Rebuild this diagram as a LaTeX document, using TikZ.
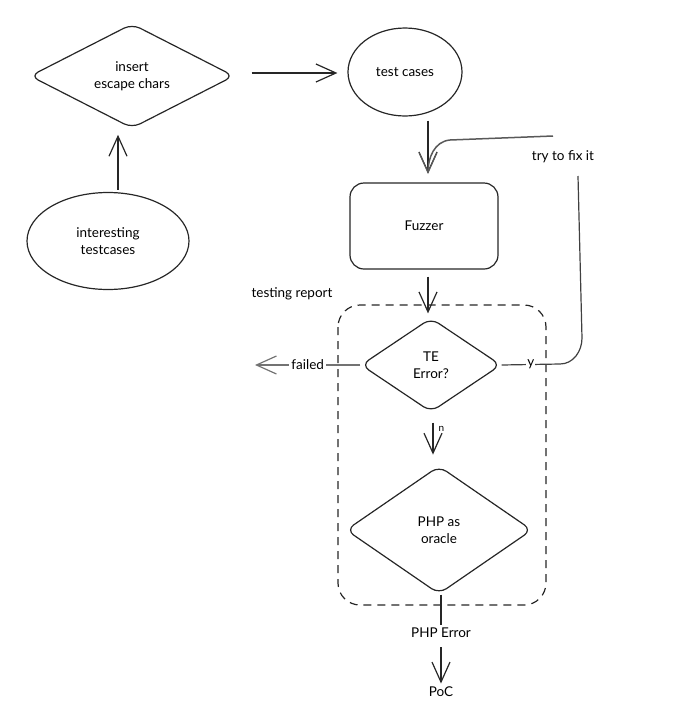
\documentclass[tikz,border=0pt]{standalone}
\usepackage{fontspec}
\setmainfont{Lato}
\usetikzlibrary{shapes.geometric,arrows.meta}
\begin{document}
\begin{tikzpicture}[x=1pt,y=-1pt,
  every node/.style={font=\fontsize{13.5}{16.5}\selectfont, align=center},
  line/.style={draw=black!85, line width=1.2pt},
  arr/.style={line, -{Straight Barb[length=20pt,width=18pt,line width=1.2pt]}},
  dia/.style={diamond, line, rounded corners=9pt, inner sep=0pt},
  ell/.style={ellipse, line, inner sep=0pt},
  lbl/.style={fill=white, inner sep=2pt}]
\useasboundingbox (0,0) rectangle (698,721);
% nodes
\node[dia, minimum width=204pt, minimum height=96pt] (ins) at (132,76) {insert\\escape chars};
\node[ell, minimum width=114pt, minimum height=88pt] (tc) at (405,72) {test cases};
\node[ell, minimum width=162pt, minimum height=97pt] (int) at (108,241) {interesting\\testcases};
\node[line, rounded corners=14pt, minimum width=148pt, minimum height=86pt] (fuz) at (424,226) {Fuzzer};
\node[dia, minimum width=140pt, minimum height=94pt] (te) at (431,365) {TE\\Error?};
\node[dia, minimum width=186pt, minimum height=128pt] (php) at (439,530) {PHP as\\oracle};
\node (rep) at (292,294) {testing report};
\node (fix) at (563,157) {try to fix it};
\node (phperr) at (441,633) {PHP Error};
\node (poc) at (441,692) {PoC};
\coordinate (failend) at (255,365);
% dashed container
\draw[line, dashed, dash pattern=on 8pt off 6pt, rounded corners=22pt] (338,305) rectangle (546,605);
% connectors
\draw[arr, shorten <=17pt, shorten >=10pt] (ins.east |- 0,73) -- (tc.west |- 0,73);
\draw[arr, shorten <=2pt, shorten >=6pt] (int.north -| 118,0) -- (ins.south -| 118,0);
\draw[arr, shorten <=4pt, shorten >=9pt] (tc.south -| 428,0) -- (fuz.north -| 428,0);
\draw[arr, shorten <=7pt, shorten >=4pt] (fuz.south -| 428,0) -- (te.north -| 428,0);
\draw[arr] (te.south) ++(2,10) -- node[pos=0.2, right, inner sep=5pt, font=\fontsize{10}{12}\selectfont] {n} ++(0,32);
\draw[arr, draw=black!55, line width=1.6pt] (te.west) -- node[lbl] {failed} (failend);
\draw[line, draw=black!75] (te.east) -- node[lbl, inner sep=1pt] {y} (560,364) to[out=0,in=-90] (582,338) -- (578,176);
\draw[arr, draw=black!65, line width=1.5pt] (553,136) -- (450,140) to[out=185,in=90] (428,174);
\draw[line] (php.south) ++(2,0) -- (phperr.north);
\draw[arr, shorten <=6pt] (phperr.south -| 441,0) -- (poc.north -| 441,0);
\end{tikzpicture}
\end{document}
